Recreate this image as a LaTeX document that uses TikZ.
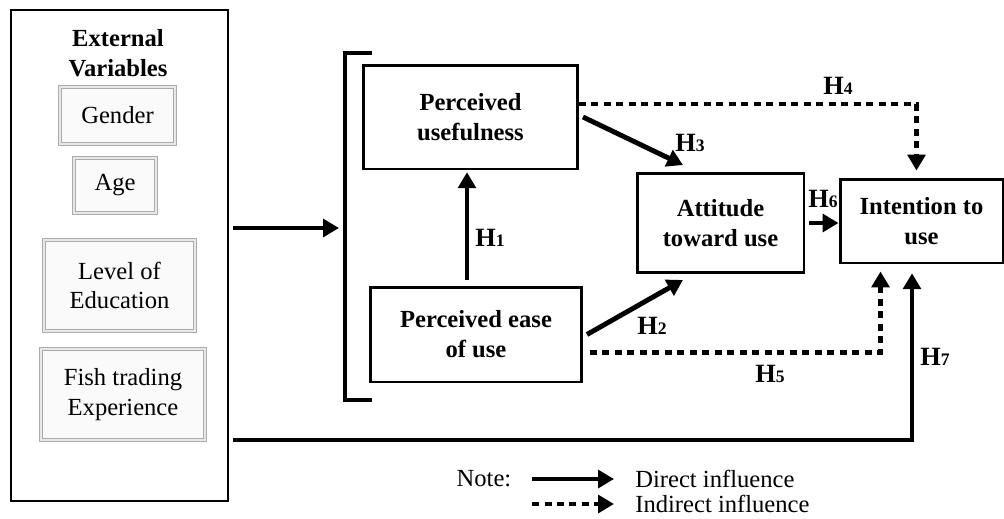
\documentclass[tikz,border=0pt]{standalone}
\usepackage{fontspec}
\setmainfont{Liberation Serif}
\usetikzlibrary{positioning,arrows.meta}
\newcommand{\hlab}[1]{H{\fontsize{10}{10}\selectfont#1}}

\begin{document}
\begin{tikzpicture}[x=0.02cm,y=-0.02cm,
	every node/.style={font=\fontsize{14}{17}\selectfont},
	box/.style={draw, line width=1.7pt, inner sep=0pt, align=center, font=\fontsize{14}{17}\selectfont\bfseries},
	varbox/.style={draw=gray!65, double=gray!18, double distance=1.6pt, line width=0.5pt, fill=gray!4, inner sep=0pt, align=center},
	direct/.style={line width=2.8pt, -{Triangle[length=9pt,width=10pt]}},
	indirect/.style={direct, dash pattern=on 0.14cm off 0.11cm},
	hyp/.style={font=\fontsize{15}{15}\selectfont\bfseries, inner sep=0pt}]
	\useasboundingbox (0,0) rectangle (1004,518);

	\node[draw, line width=1.6pt, minimum width=4.34cm, minimum height=9.82cm, inner sep=0pt] (ext) at (119.5,255.5) {};
	\node[align=center, font=\fontsize{14}{17}\selectfont\bfseries] (extlab) at (118,53) {External\\Variables};
	\node[varbox, minimum width=2.30cm, minimum height=1.14cm] (gender) at (117.5,115.5) {Gender};
	\node[varbox, minimum width=1.64cm, minimum height=1.10cm] (age) at (115,185.5) {Age};
	\node[varbox, minimum width=3.02cm, minimum height=1.82cm] (edu) at (119.5,285.5) {Level of\\Education};
	\node[varbox, minimum width=3.28cm, minimum height=1.82cm] (fish) at (123,394.5) {Fish trading\\Experience};

	\node[box, minimum width=4.28cm, minimum height=2.08cm] (pu) at (470.5,117) {Perceived\\usefulness};
	\node[box, minimum width=4.22cm, minimum height=1.90cm] (peou) at (476,334.5) {Perceived ease\\of use};
	\node[box, minimum width=3.34cm, minimum height=1.98cm] (att) at (720.5,223) {Attitude\\toward use};
	\node[box, minimum width=3.26cm, minimum height=1.68cm] (itu) at (921.5,221) {Intention to\\use};

	\draw[line width=2.2pt] (372,53) -- (345,53) -- (345,400) -- (372,400);
	\coordinate (brk) at (339,228);
	\coordinate (h7) at (912,440);

	\draw[direct, shorten <=2pt] (ext.east |- brk) -- (brk);
	\draw[direct, shorten <=3pt, shorten >=1pt] ([xshift=-0.18cm]peou.north) -- ([xshift=-0.18cm]peou.north |- pu.south);
	\draw[direct] ([xshift=0.08cm]pu.east) -- ([shift={(-0.75cm,0.14cm)}]att.north);
	\draw[direct] ([xshift=0.08cm]peou.east) -- ([shift={(-0.75cm,-0.12cm)}]att.south);
	\draw[indirect] ([yshift=0.26cm]pu.east) -| ([shift={(-0.1cm,0.14cm)}]itu.north);
	\draw[indirect] ([shift={(0.14cm,-0.36cm)}]peou.east) -| ([shift={(-0.82cm,-0.14cm)}]itu.south);
	\draw[direct, shorten <=2pt] (att.east) -- (att.east -| itu.west);
	\draw[direct, shorten <=2pt, shorten >=5pt] (ext.east |- h7) -- (h7) -- (h7 |- itu.south);

	\node[hyp] (h1) at (490,238) {\hlab1};
	\node[hyp] (h2) at (652,326) {\hlab2};
	\node[hyp] (h3) at (690,143) {\hlab3};
	\node[hyp] (h4) at (838,86) {\hlab4};
	\node[hyp] (h5) at (770,374) {\hlab5};
	\node[hyp] (h6) at (823,199) {\hlab6};
	\node[hyp] (h7lab) at (935,357) {\hlab7};

	\node (note) at (484,479) {Note:};
	\node[anchor=west, inner sep=0pt] (dir) at (635,479) {Direct influence};
	\node[anchor=west, inner sep=0pt] (ind) at (635,504) {Indirect influence};
	\coordinate (ds) at (532,479);
	\coordinate (is) at (532,504);
	\draw[direct, shorten >=0.42cm] (ds) -- (dir.west);
	\draw[indirect, shorten >=0.42cm] (is) -- (ind.west);
\end{tikzpicture}
\end{document}
